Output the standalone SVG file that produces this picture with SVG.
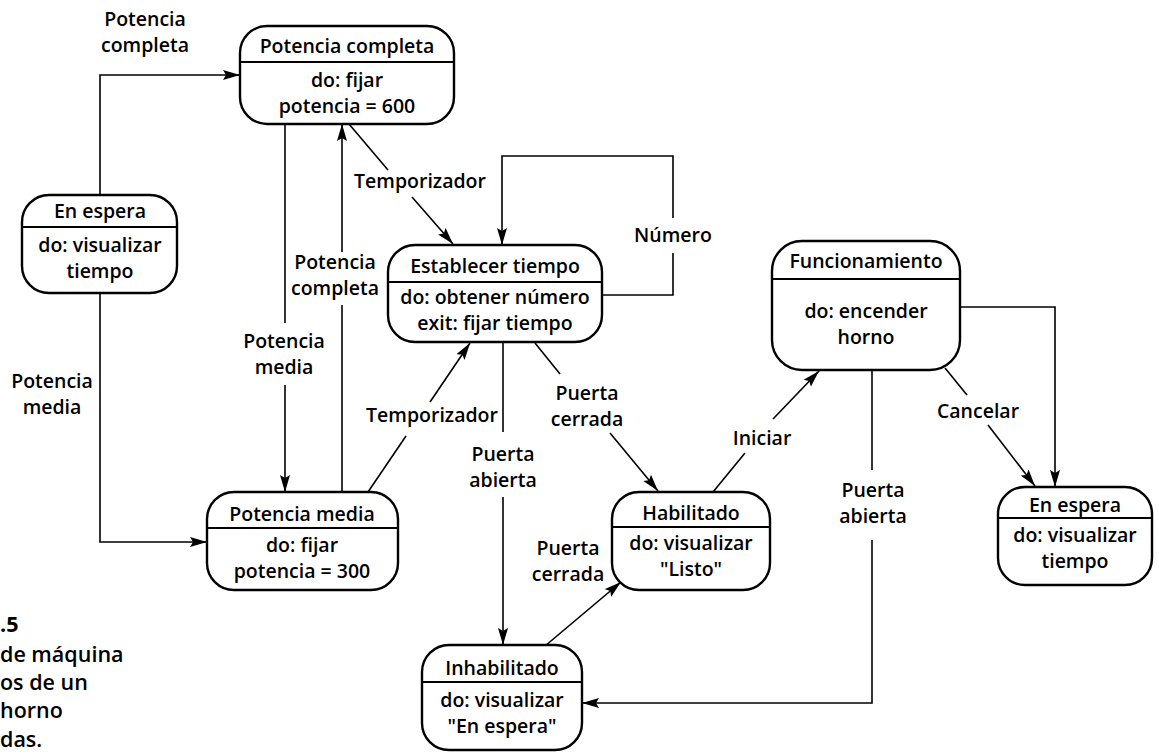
<svg xmlns="http://www.w3.org/2000/svg" width="1159" height="755" viewBox="0 0 1159 755">
<defs>
<marker id="ah" markerUnits="userSpaceOnUse" markerWidth="17" markerHeight="11" refX="17" refY="5.5" orient="auto">
<path d="M0,0.5 L17,5.5 L0,10.5 L3,5.5 z" fill="#000"/>
</marker>
<style>
text{font-family:"Open Sans","Liberation Sans",sans-serif;font-weight:600;font-size:19.5px;fill:#000;text-anchor:middle}
.box{fill:#fff;stroke:#000;stroke-width:2.4}
.div{stroke:#000;stroke-width:1.8}
.c{fill:none;stroke:#000;stroke-width:1.6}
.a{marker-end:url(#ah)}
.cap{text-anchor:start;font-size:21.5px}
</style>
</defs>
<rect width="1159" height="755" fill="#fff"/>

<g id="connectors">
<polyline class="c a" points="100,195 100,75 240,75"/>
<text x="145" y="26">Potencia</text><text x="145" y="52">completa</text>
<polyline class="c a" points="100,293 100,542 207,542"/>
<text x="52" y="388">Potencia</text><text x="52" y="414">media</text>
<line class="c" x1="285" y1="124" x2="285" y2="323"/>
<line class="c a" x1="285" y1="385" x2="285" y2="492"/>
<text x="284" y="348">Potencia</text><text x="284" y="374">media</text>
<line class="c" x1="342" y1="492" x2="342" y2="305"/>
<line class="c a" x1="342" y1="252" x2="342" y2="124"/>
<text x="335" y="269">Potencia</text><text x="335" y="295">completa</text>
<line class="c" x1="349" y1="124" x2="388" y2="170"/>
<line class="c a" x1="412" y1="197" x2="453" y2="244"/>
<text x="420" y="188">Temporizador</text>
<polyline class="c" points="602,295 673,295 673,253"/>
<polyline class="c a" points="673,218 673,156 502,156 502,245"/>
<text x="673" y="242">Número</text>
<line class="c" x1="368" y1="492" x2="406" y2="436"/>
<line class="c a" x1="430" y1="402" x2="470" y2="343"/>
<text x="432" y="422">Temporizador</text>
<line class="c" x1="503" y1="342" x2="503" y2="432"/>
<line class="c a" x1="503" y1="497" x2="503" y2="645"/>
<text x="503" y="461">Puerta</text><text x="503" y="487">abierta</text>
<line class="c" x1="535" y1="343" x2="560" y2="374"/>
<line class="c a" x1="610" y1="433" x2="658" y2="491"/>
<text x="587" y="400">Puerta</text><text x="587" y="426">cerrada</text>
<line class="c a" x1="545" y1="646" x2="621" y2="582"/>
<text x="568" y="555">Puerta</text><text x="568" y="581">cerrada</text>
<line class="c" x1="713" y1="492" x2="745" y2="453"/>
<line class="c a" x1="773" y1="419" x2="819" y2="371"/>
<text x="762" y="445">Iniciar</text>
<line class="c" x1="872" y1="370" x2="872" y2="470"/>
<polyline class="c a" points="872,540 872,703 582,703"/>
<text x="873" y="497">Puerta</text><text x="873" y="523">abierta</text>
<line class="c" x1="945" y1="368" x2="967" y2="395"/>
<line class="c a" x1="988" y1="425" x2="1035" y2="486"/>
<text x="978" y="418">Cancelar</text>
<polyline class="c a" points="960,307 1055,307 1055,487"/>
</g>

<g id="potencia-completa">
<rect class="box" x="240" y="26" width="214" height="98" rx="27"/>
<line class="div" x1="240" y1="62" x2="454" y2="62"/>
<text x="347" y="53">Potencia completa</text>
<text x="347" y="87">do: fijar</text>
<text x="347" y="113">potencia = 600</text>
</g>

<g id="en-espera-1">
<rect class="box" x="22" y="195" width="155" height="98" rx="27"/>
<line class="div" x1="22" y1="227" x2="177" y2="227"/>
<text x="100" y="218">En espera</text>
<text x="100" y="252">do: visualizar</text>
<text x="100" y="278">tiempo</text>
</g>

<g id="establecer-tiempo">
<rect class="box" x="388" y="245" width="214" height="97" rx="27"/>
<line class="div" x1="388" y1="282" x2="602" y2="282"/>
<text x="495" y="273">Establecer tiempo</text>
<text x="495" y="304">do: obtener número</text>
<text x="495" y="330">exit: fijar tiempo</text>
</g>

<g id="funcionamiento">
<rect class="box" x="772" y="241" width="188" height="129" rx="30"/>
<line class="div" x1="772" y1="279" x2="960" y2="279"/>
<text x="866" y="268">Funcionamiento</text>
<text x="866" y="318">do: encender</text>
<text x="866" y="344">horno</text>
</g>

<g id="en-espera-2">
<rect class="box" x="998" y="487" width="154" height="98" rx="27"/>
<line class="div" x1="998" y1="518" x2="1152" y2="518"/>
<text x="1075" y="512">En espera</text>
<text x="1075" y="542">do: visualizar</text>
<text x="1075" y="568">tiempo</text>
</g>

<g id="habilitado">
<rect class="box" x="612" y="492" width="158" height="98" rx="27"/>
<line class="div" x1="612" y1="527" x2="770" y2="527"/>
<text x="691" y="520">Habilitado</text>
<text x="691" y="550">do: visualizar</text>
<text x="691" y="576">"Listo"</text>
</g>

<g id="potencia-media">
<rect class="box" x="207" y="492" width="191" height="98" rx="27"/>
<line class="div" x1="207" y1="528" x2="398" y2="528"/>
<text x="302" y="521">Potencia media</text>
<text x="302" y="552">do: fijar</text>
<text x="302" y="578">potencia = 300</text>
</g>

<g id="inhabilitado">
<rect class="box" x="422" y="645" width="160" height="105" rx="27"/>
<line class="div" x1="422" y1="682" x2="582" y2="682"/>
<text x="502" y="675">Inhabilitado</text>
<text x="502" y="707">do: visualizar</text>
<text x="502" y="733">"En espera"</text>
</g>

<g id="caption">
<text class="cap" x="0" y="632" style="font-weight:700">.5</text>
<text class="cap" x="0" y="662">de máquina</text>
<text class="cap" x="0" y="690">os de un</text>
<text class="cap" x="0" y="718">horno</text>
<text class="cap" x="0" y="747">das.</text>
</g>
</svg>
